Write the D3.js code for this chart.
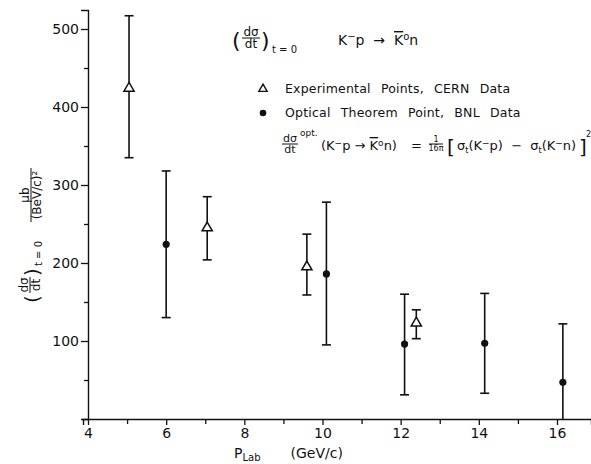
<!DOCTYPE html>
<html>
<head>
<meta charset="utf-8">
<script src="https://cdn.jsdelivr.net/npm/d3@7"></script>
<style>
  body { margin: 0; background: #fff; }
  svg { display: block; }
  text { font-family: "DejaVu Sans", sans-serif; fill: #111; white-space: pre; }
</style>
</head>
<body>
<svg id="chart" width="591" height="464"></svg>
<script>
// CERN (open triangles) and BNL (filled circles) points
const cernP  = [5.05, 7.05, 9.6, 12.4];
const cernY  = [424, 245, 195, 123];
const cernLo = [335, 204, 159, 103];
const cernHi = [517, 285, 237, 140];

const bnlP  = [6, 10.1, 12.1, 14.15, 16.15];
const bnlY  = [224, 186, 96, 97, 47];
const bnlLo = [130, 95, 31, 33, 0];
const bnlHi = [318, 278, 160, 161, 122];

const xTicks = [4, 5, 6, 7, 8, 9, 10, 11, 12, 13, 14, 15, 16];
const yTicks = [50, 100, 150, 200, 250, 300, 350, 400, 450, 500];

var svg = d3.select("#chart");

var x = d3.scaleLinear().domain([4, 16]).range([88, 557]);
var y = d3.scaleLinear().domain([0, 500]).range([419, 29]);

// axes, drawn a bit past the data range like the original
var xAxisScale = x.copy().domain([x.invert(83), x.invert(591)]).range([83, 591]);
var yAxisScale = y.copy().domain([0, y.invert(10)]).range([419, 10]);

var xAxis = svg.append("g")
    .attr("transform", `translate(0,${y(0)})`)
    .call(d3.axisBottom(xAxisScale)
        .tickValues(xTicks)
        .tickSizeOuter(0)
        .tickSize(6)
        .tickPadding(3)
        .tickFormat(d => d % 2 === 0 ? d : ""));

var yAxis = svg.append("g")
    .attr("transform", `translate(${x(4)},0)`)
    .call(d3.axisLeft(yAxisScale)
        .tickValues(yTicks)
        .tickSizeOuter(0)
        .tickSize(7)
        .tickPadding(2)
        .tickFormat(d => d % 100 === 0 ? d : ""));

[xAxis, yAxis].forEach(a => {
    a.select(".domain").attr("stroke", "#111").attr("stroke-width", 1.4);
    a.selectAll(".tick line").attr("stroke", "#111").attr("stroke-width", 1.3);
    a.selectAll(".tick text").style("font-size", "14px").attr("fill", "#111");
});
yAxis.selectAll(".tick").filter(d => d % 100 !== 0).select("line").attr("x2", -4);
xAxis.selectAll(".tick").filter(d => d % 2 !== 0).select("line").attr("y2", 5);

// error bars
function errorBars(ps, lo, hi) {
    var g = svg.append("g").attr("stroke", "#111").attr("stroke-width", 1.6);
    ps.forEach((p, i) => {
        g.append("line")
            .attr("x1", x(p)).attr("x2", x(p))
            .attr("y1", y(lo[i])).attr("y2", y(hi[i]));
        [lo[i], hi[i]].forEach(v => {
            if (v <= 0) return;
            g.append("line")
                .attr("x1", x(p) - 4.5).attr("x2", x(p) + 4.5)
                .attr("y1", y(v)).attr("y2", y(v));
        });
    });
}
errorBars(cernP, cernLo, cernHi);
errorBars(bnlP, bnlLo, bnlHi);

var tri = d3.symbol().type(d3.symbolTriangle).size(45);

svg.selectAll("path.cern")
    .data(cernP)
    .enter()
    .append("path")
    .attr("class", "cern")
    .attr("d", tri)
    .attr("transform", (d, i) => `translate(${x(d)},${y(cernY[i])})`)
    .attr("fill", "#fff")
    .attr("stroke", "#111")
    .attr("stroke-width", 1.5);

svg.selectAll("circle.bnl")
    .data(bnlP)
    .enter()
    .append("circle")
    .attr("class", "bnl")
    .attr("cx", d => x(d))
    .attr("cy", (d, i) => y(bnlY[i]))
    .attr("r", 3.6)
    .attr("fill", "#111");

// small helper: a stacked fraction centred on cx, bar at by
function frac(g, cx, by, num, den, size, halfW) {
    g.append("text").attr("x", cx).attr("y", by - 2.5)
        .attr("text-anchor", "middle").style("font-size", size + "px").text(num);
    g.append("line").attr("x1", cx - halfW).attr("x2", cx + halfW)
        .attr("y1", by).attr("y2", by).attr("stroke", "#111").attr("stroke-width", 1);
    g.append("text").attr("x", cx).attr("y", by + size * 0.85)
        .attr("text-anchor", "middle").style("font-size", size + "px").text(den);
}

// title block: (dσ/dt)t=0   K⁻p → K̄⁰n
var title = svg.append("g");
title.append("text").attr("x", 232).attr("y", 48).style("font-size", "22px").text("(");
frac(title, 251, 38, "dσ", "dt", 12, 9);
title.append("text").attr("x", 261).attr("y", 48).style("font-size", "22px").text(")");
title.append("text").attr("x", 272).attr("y", 53).style("font-size", "10px").text("t = 0");

var react = title.append("text").attr("x", 338).attr("y", 45).style("font-size", "14px");
react.append("tspan").text("K");
react.append("tspan").attr("dy", -5).style("font-size", "10px").text("−");
react.append("tspan").attr("dy", 5).text("p  →  ");
react.append("tspan").style("text-decoration", "overline").text("K");
react.append("tspan").attr("dy", -5).style("font-size", "10px").text("o");
react.append("tspan").attr("dy", 5).text("n");

// legend
var legend = svg.append("g");
legend.append("path")
    .attr("d", d3.symbol().type(d3.symbolTriangle).size(30))
    .attr("transform", "translate(263,89)")
    .attr("fill", "#fff").attr("stroke", "#111").attr("stroke-width", 1.4);
legend.append("circle").attr("cx", 263).attr("cy", 113).attr("r", 3.3).attr("fill", "#111");
legend.append("text").attr("x", 285).attr("y", 93).style("font-size", "12.5px")
    .style("word-spacing", "6px").style("letter-spacing", "0.2px")
    .text("Experimental Points, CERN Data");
legend.append("text").attr("x", 285).attr("y", 117).style("font-size", "12.5px")
    .style("word-spacing", "6px").style("letter-spacing", "0.2px")
    .text("Optical Theorem Point, BNL Data");

// optical theorem formula
var eq = svg.append("g");
frac(eq, 290, 144, "dσ", "dt", 11, 8);
eq.append("text").attr("x", 300).attr("y", 136).style("font-size", "9px").text("opt.");
var lhs = eq.append("text").attr("x", 321).attr("y", 150).style("font-size", "13px");
lhs.append("tspan").text("(K");
lhs.append("tspan").attr("dy", -4).style("font-size", "9px").text("−");
lhs.append("tspan").attr("dy", 4).text("p → ");
lhs.append("tspan").style("text-decoration", "overline").text("K");
lhs.append("tspan").attr("dy", -4).style("font-size", "9px").text("o");
lhs.append("tspan").attr("dy", 4).text("n)");
eq.append("text").attr("x", 411).attr("y", 150).style("font-size", "13px").text("=");
frac(eq, 436, 144, "1", "16π", 8, 7);
eq.append("text").attr("x", 447).attr("y", 154).style("font-size", "20px").text("[");
var rhs = eq.append("text").attr("x", 457).attr("y", 150).style("font-size", "13px");
rhs.append("tspan").text("σ");
rhs.append("tspan").attr("dy", 3).style("font-size", "8px").text("t");
rhs.append("tspan").attr("dy", -3).text("(K");
rhs.append("tspan").attr("dy", -4).style("font-size", "9px").text("−");
rhs.append("tspan").attr("dy", 4).text("p)  −  σ");
rhs.append("tspan").attr("dy", 3).style("font-size", "8px").text("t");
rhs.append("tspan").attr("dy", -3).text("(K");
rhs.append("tspan").attr("dy", -4).style("font-size", "9px").text("−");
rhs.append("tspan").attr("dy", 4).text("n)");
eq.append("text").attr("x", 579).attr("y", 154).style("font-size", "20px").text("]");
eq.append("text").attr("x", 586).attr("y", 137).style("font-size", "8px").text("2");

// x axis title
var xl = svg.append("text").attr("x", 234).attr("y", 458).style("font-size", "14px");
xl.append("tspan").text("P");
xl.append("tspan").attr("dy", 3).style("font-size", "10px").text("Lab");
xl.append("tspan").attr("dy", -3).attr("dx", 30).text("(GeV/c)");

// y axis title, rotated
var yl = svg.append("g").attr("transform", "translate(31,235) rotate(-90)");
yl.append("text").attr("x", -68).attr("y", 8).style("font-size", "20px").text("(");
frac(yl, -50, -1, "dσ", "dt", 12, 8);
yl.append("text").attr("x", -41).attr("y", 8).style("font-size", "20px").text(")");
yl.append("text").attr("x", -31).attr("y", 11).style("font-size", "10px").text("t = 0");
frac(yl, 40, 0, "μb", "(BeV/c)²", 12, 27);
</script>
</body>
</html>
